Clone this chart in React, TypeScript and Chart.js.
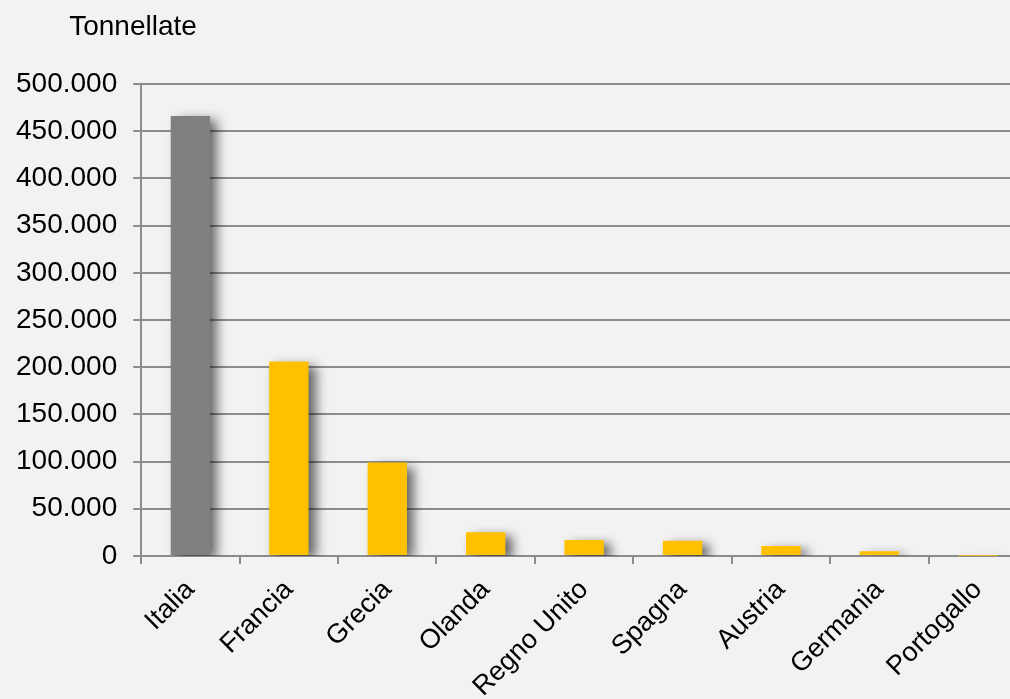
import React, { useEffect, useRef } from 'react';
import { Chart, registerables } from 'chart.js';

Chart.register(...registerables);

const categories = ['Italia', 'Francia', 'Grecia', 'Olanda', 'Regno Unito', 'Spagna', 'Austria', 'Germania', 'Portogallo'];
const values = [466000, 206000, 99000, 25000, 17000, 16000, 10500, 5000, 300];
const barColors = ['#808080', '#FFC000', '#FFC000', '#FFC000', '#FFC000', '#FFC000', '#FFC000', '#FFC000', '#FFC000'];
const yMin = 0;
const yMax = 500000;
const yStep = 50000;
const yTitle = 'Tonnellate';

const FONT = '"Liberation Sans", Arial, sans-serif';
const GRID = '#8c8c8c';

function fmt(v: number): string {
  return String(Math.round(v)).replace(/\B(?=(\d{3})+(?!\d))/g, '.');
}

const shadowPlugin = {
  id: 'barShadow',
  beforeDatasetsDraw(chart: any) {
    const ctx = chart.ctx;
    ctx.save();
    ctx.shadowColor = 'rgba(0,0,0,0.6)';
    ctx.shadowBlur = 11;
    ctx.shadowOffsetX = 7;
    ctx.shadowOffsetY = 4;
  },
  afterDatasetsDraw(chart: any) {
    chart.ctx.restore();
  },
};

const titlePlugin = {
  id: 'yTitle',
  afterDraw(chart: any) {
    const ctx = chart.ctx;
    ctx.save();
    ctx.font = `28px ${FONT}`;
    ctx.fillStyle = '#000';
    ctx.textAlign = 'left';
    ctx.textBaseline = 'alphabetic';
    ctx.fillText(yTitle, chart.chartArea.left - 72, 35);
    ctx.restore();
  },
};

export default function App() {
  const ref = useRef<HTMLCanvasElement | null>(null);

  useEffect(() => {
    if (!ref.current) return;
    const chart = new Chart(ref.current, {
      type: 'bar',
      data: {
        labels: categories,
        datasets: [
          {
            data: values,
            backgroundColor: barColors,
            borderWidth: 0,
            barPercentage: 0.4,
            categoryPercentage: 1,
          },
        ],
      },
      options: {
        animation: false,
        responsive: false,
        maintainAspectRatio: false,
        layout: { padding: { top: 84, right: 13, left: 0, bottom: 0 } },
        plugins: {
          legend: { display: false },
          tooltip: { enabled: false },
          title: { display: false },
        },
        scales: {
          x: {
            offset: true,
            grid: {
              display: true,
              offset: true,
              drawOnChartArea: false,
              drawTicks: true,
              tickLength: 8,
              color: GRID,
              lineWidth: 2,
            },
            border: { display: true, color: GRID, width: 2 },
            ticks: {
              font: { family: FONT, size: 27 },
              color: '#000',
              maxRotation: 45,
              minRotation: 45,
              autoSkip: false,
              padding: 10,
            },
          },
          y: {
            min: yMin,
            max: yMax,
            grid: {
              color: GRID,
              lineWidth: 2,
              drawTicks: true,
              tickLength: 8,
            },
            border: { display: true, color: GRID, width: 2 },
            ticks: {
              stepSize: yStep,
              font: { family: FONT, size: 28 },
              color: '#000',
              padding: 16,
              callback: (v: any) => fmt(Number(v)),
            },
          },
        },
      },
      plugins: [shadowPlugin, titlePlugin],
    });
    return () => chart.destroy();
  }, []);

  return (
    <div
      style={{
        position: 'fixed',
        left: 0,
        top: 0,
        width: 1010,
        height: 699,
        overflow: 'hidden',
        background: '#f2f2f2',
      }}
    >
      <canvas ref={ref} width={1040} height={713} style={{ display: 'block' }} />
    </div>
  );
}
